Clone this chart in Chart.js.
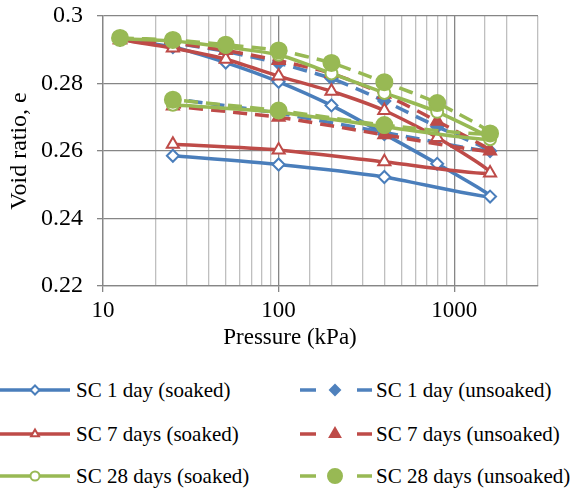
<!DOCTYPE html>
<html>
<head>
<meta charset="utf-8">
<script src="https://cdn.jsdelivr.net/npm/chart.js@4"></script>
<style>
  body { margin: 0; background: #fff; }
  #wrap { position: relative; width: 573px; height: 488px; font-family: 'Liberation Serif', 'Times New Roman', Times, serif; color: #000; }
  #my-chart { position: absolute; left: 0; top: 0; }
  #x-title { position: absolute; left: 190px; width: 200px; top: 323px; text-align: center; font-size: 23px; line-height: 28px; }
  .item { position: absolute; height: 26px; display: flex; align-items: center; font-size: 21px; white-space: nowrap; }
  .item canvas { margin-right: 4px; }
</style>
</head>
<body>
<div id="wrap">
  <canvas id="my-chart" width="573" height="352"></canvas>
  <div id="x-title">Pressure (kPa)</div>
  <div id="legend"></div>
</div>
<script>
// loading 12.5 -> 1600 kPa, then unloading back to 25 kPa
const pressure = [12.5, 25, 50, 100, 200, 400, 800, 1600, 400, 100, 25];

const sc1Soaked    = [0.2930, 0.2908, 0.2862, 0.2805, 0.2735, 0.2650, 0.2562, 0.2465, 0.2523, 0.2560, 0.2586];
const sc1Unsoaked  = [0.2930, 0.2920, 0.2895, 0.2860, 0.2815, 0.2748, 0.2672, 0.2600, 0.2655, 0.2712, 0.2755];
const sc7Soaked    = [0.2930, 0.2905, 0.2872, 0.2822, 0.2777, 0.2720, 0.2640, 0.2535, 0.2568, 0.2603, 0.2620];
const sc7Unsoaked  = [0.2930, 0.2920, 0.2898, 0.2868, 0.2830, 0.2768, 0.2688, 0.2600, 0.2648, 0.2700, 0.2733];
const sc28Soaked   = [0.2933, 0.2926, 0.2908, 0.2885, 0.2830, 0.2772, 0.2716, 0.2635, 0.2672, 0.2715, 0.2737];
const sc28Unsoaked = [0.2935, 0.2929, 0.2915, 0.2898, 0.2861, 0.2804, 0.2742, 0.2652, 0.2677, 0.2720, 0.2752];

const yTicks = [0.22, 0.24, 0.26, 0.28, 0.3];
const xLabels = [10, 100, 1000];

const BLUE = '#4A7EBB', RED = '#BE4B48', GREEN = '#98B954';
const SERIF = "'Liberation Serif', 'Times New Roman', Times, serif";

function series(label, values, color, marker, filled, dashed, radius, order) {
  return {
    label: label,
    data: pressure.map((p, i) => ({ x: p, y: values[i] })),
    showLine: true,
    borderColor: color,
    borderWidth: 3.5,
    borderDash: dashed ? [14, 8] : [],
    tension: 0.2,
    pointStyle: marker,
    pointRadius: radius,
    pointBorderColor: color,
    pointBackgroundColor: filled ? color : '#fff',
    pointBorderWidth: 2,
    order: order,
    // legend sample settings
    legendRadius: filled ? radius - 1 : 4.5
  };
}

const datasets = [
  series('SC 1 day (soaked)', sc1Soaked, BLUE, 'rectRot', false, false, 6, 5),
  series('SC 1 day (unsoaked)', sc1Unsoaked, '#4F81BD', 'rectRot', true, true, 6, 4),
  series('SC 7 days (soaked)', sc7Soaked, RED, 'triangle', false, false, 7, 3),
  series('SC 7 days (unsoaked)', sc7Unsoaked, RED, 'triangle', true, true, 7, 2),
  series('SC 28 days (soaked)', sc28Soaked, GREEN, 'circle', false, false, 6, 1),
  series('SC 28 days (unsoaked)', sc28Unsoaked, GREEN, 'circle', true, true, 8, 0)
];

const isDecade = v => Math.abs(Math.log10(v) - Math.round(Math.log10(v))) < 1e-6;

const ctx = document.getElementById('my-chart').getContext('2d');
const chart = new Chart(ctx, {
  type: 'scatter',
  data: { datasets: datasets },
  options: {
    responsive: false,
    animation: false,
    layout: { padding: { left: 0, top: 16, right: 35, bottom: 0 } },
    plugins: { legend: { display: false }, tooltip: { enabled: false } },
    scales: {
      x: {
        type: 'logarithmic',
        min: 10,
        max: 3000,
        afterFit: scale => { scale.height = 66; },
        border: { color: '#868686', width: 1.3 },
        grid: {
          color: c => (c.tick && isDecade(c.tick.value)) ? '#868686' : '#BFBFBF',
          tickColor: c => (c.tick && xLabels.includes(c.tick.value)) ? '#868686' : 'rgba(0,0,0,0)',
          lineWidth: 1.3,
          tickLength: 6
        },
        ticks: {
          autoSkip: false,
          maxRotation: 0,
          padding: 5,
          color: '#000',
          font: { family: SERIF, size: 23 },
          callback: v => xLabels.includes(v) ? String(v) : ''
        }
      },
      y: {
        min: 0.22,
        max: 0.3,
        afterFit: scale => {
          scale.width = 103;
          scale.paddingTop = 0;
          scale.paddingBottom = 0;
        },
        afterBuildTicks: scale => { scale.ticks = yTicks.map(v => ({ value: v })); },
        border: { color: '#868686', width: 1.3 },
        grid: { color: '#868686', lineWidth: 1.3, tickLength: 6, tickColor: '#868686' },
        ticks: {
          padding: 14,
          color: '#000',
          font: { family: SERIF, size: 24 },
          callback: v => String(+v.toFixed(2))
        },
        title: {
          display: true,
          text: 'Void ratio, e',
          color: '#000',
          font: { family: SERIF, size: 24 },
          padding: { top: 5, bottom: 0 }
        }
      }
    }
  }
});

// two-column legend under the plot
const legend = document.getElementById('legend');
const colX = [0, 300];
const rowY = [377, 421, 463];
datasets.forEach((ds, i) => {
  const item = document.createElement('div');
  item.className = 'item';
  item.style.left = colX[i % 2] + 'px';
  item.style.top = rowY[Math.floor(i / 2)] + 'px';
  const sw = document.createElement('canvas');
  sw.width = 72; sw.height = 20;
  const g = sw.getContext('2d');
  g.strokeStyle = ds.borderColor;
  g.lineWidth = 3.5;
  g.beginPath();
  if (ds.borderDash.length) {
    g.moveTo(0, 10); g.lineTo(16, 10);
    g.moveTo(57, 10); g.lineTo(72, 10);
  } else {
    g.moveTo(0, 10); g.lineTo(70, 10);
  }
  g.stroke();
  g.fillStyle = ds.pointBackgroundColor;
  g.strokeStyle = ds.pointBorderColor;
  g.lineWidth = 2;
  Chart.helpers.drawPoint(g, { pointStyle: ds.pointStyle, radius: ds.legendRadius, rotation: 0, borderWidth: 2 }, 35, 10);
  item.appendChild(sw);
  item.appendChild(document.createTextNode(ds.label));
  legend.appendChild(item);
});
</script>
</body>
</html>
